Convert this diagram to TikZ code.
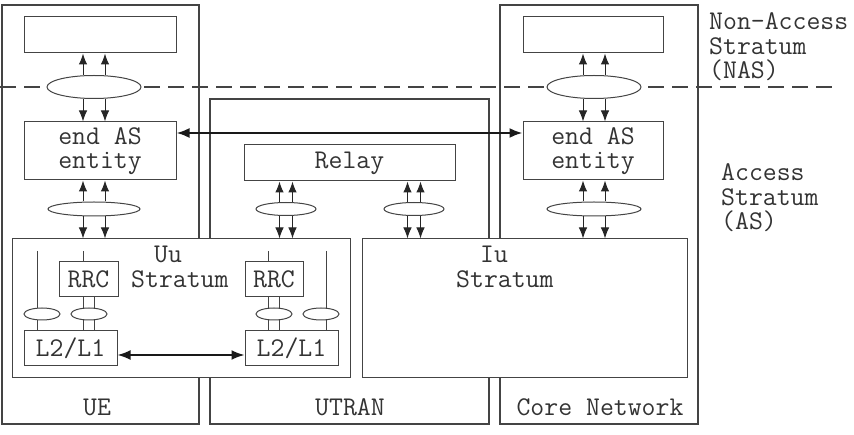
\documentclass[tikz,border=0pt]{standalone}
\usepackage{fontspec}
\usetikzlibrary{shapes.geometric,arrows.meta,calc}
\definecolor{lc}{HTML}{444444}
\definecolor{tc}{HTML}{333333}
\begin{document}
\begin{tikzpicture}[x=1pt,y=-1pt,
  every node/.style={font=\ttfamily\fontsize{27}{24.5}\selectfont, text=tc, inner sep=0pt},
  frame/.style={draw=lc, line width=1.1pt},
  box/.style={rectangle, draw=lc, fill=white, line width=1pt, align=left},
  oval/.style={ellipse, draw=lc, fill=white, line width=1pt},
  arr/.style={-{Latex[length=11pt,width=8.5pt]}, draw=black!85, line width=1pt},
  bigarr/.style={{Latex[length=13pt,width=10pt]}-{Latex[length=13pt,width=10pt]}, draw=black!90, line width=2.2pt},
  ln/.style={draw=lc, line width=1pt},
  lbl/.style={align=left}]
\useasboundingbox (0,0) rectangle (854,435);
\clip (0,0) rectangle (854,435);
% outer frames
\node[rectangle, frame, minimum width=197pt, minimum height=419pt] (ue) at (100.5,214.5) {};
\node[rectangle, frame, minimum width=279pt, minimum height=325pt] (utran) at (349.5,261.5) {};
\node[rectangle, frame, minimum width=198pt, minimum height=419pt] (cn) at (599,214.5) {};
% dashed NAS/AS border
\coordinate (dl) at (0,87);
\coordinate (dr) at (837,87);
\draw[lc, line width=1.2pt, dash pattern=on 16pt off 8pt] (dl) -- (dr);
% NAS boxes
\node[box, minimum width=152pt, minimum height=36pt] (nas1) at (100,35) {};
\node[box, minimum width=140pt, minimum height=36pt] (nas2) at (593,35) {};
% ellipses on border
\node[oval, minimum width=94pt, minimum height=23pt] (e1) at (94,87) {};
\node[oval, minimum width=94pt, minimum height=23pt] (e2) at (594,87) {};
% end AS entities
\node[box, minimum width=152pt, minimum height=58pt] (as1) at (100,151) {end AS\\entity};
\node[box, minimum width=140pt, minimum height=58pt] (as2) at (593,151) {end AS\\entity};
% relay
\node[box, minimum width=211pt, minimum height=36pt] (relay) at (349.5,163) {Relay};
% lower ellipses
\node[oval, minimum width=92pt, minimum height=14pt] (e3) at (94,209) {};
\node[oval, minimum width=60pt, minimum height=13pt] (e4) at (286,209) {};
\node[oval, minimum width=60pt, minimum height=13pt] (e5) at (414,209) {};
\node[oval, minimum width=94pt, minimum height=14pt] (e6) at (594,209) {};
% strata
\node[box, minimum width=338pt, minimum height=139pt] (uu) at (181,308.5) {};
\node[box, minimum width=325pt, minimum height=139pt] (iu) at (524.5,308.5) {};
\node[lbl, anchor=west] (uut) at (131,267) {\hspace*{23pt}Uu\\Stratum};
\node[lbl, anchor=west] (iut) at (456,267) {\hspace*{24pt}Iu\\Stratum};
% Uu internals
\node[box, minimum width=59pt, minimum height=35pt] (rrc1) at (88.5,279.5) {RRC};
\node[box, minimum width=58pt, minimum height=35pt] (rrc2) at (274,279.5) {RRC};
\node[box, minimum width=93pt, minimum height=35pt] (l2a) at (70.5,348.5) {L2/L1};
\node[box, minimum width=93pt, minimum height=35pt] (l2b) at (291.5,348.5) {L2/L1};
\coordinate (t1) at (37,251);
\coordinate (t2) at (326,251);
\draw[ln] (t1) -- (t1 |- l2a.north);
\draw[ln] (t2) -- (t2 |- l2b.north);
\draw[ln] ([xshift=-5.5pt]rrc1.north) -- ([xshift=-5.5pt]rrc1.north |- t1);
\draw[ln] ([xshift=-6pt]rrc2.north) -- ([xshift=-6pt]rrc2.north |- t1);
\foreach \s in {-5.5pt,5.5pt}{
  \draw[ln] ([xshift=\s]rrc1.south) -- ([xshift=\s]rrc1.south |- l2a.north);
  \draw[ln] ([xshift=\s]rrc2.south) -- ([xshift=\s]rrc2.south |- l2b.north);
}
\node[oval, minimum width=36pt, minimum height=12pt] (s1) at (42,314) {};
\node[oval, minimum width=36pt, minimum height=12pt] (s2) at (89,314) {};
\node[oval, minimum width=36pt, minimum height=12pt] (s3) at (274,314) {};
\node[oval, minimum width=36pt, minimum height=12pt] (s4) at (321,314) {};
\draw[bigarr, line width=1.8pt] ([yshift=-6.5pt]l2a.east) -- ([yshift=-6.5pt]l2b.west);
% arrows around ellipses
\foreach \s in {-11pt,11pt}{
  \draw[arr] ([xshift=\s]e1.north) -- ([xshift=\s]e1.north |- nas1.south);
  \draw[arr] ([xshift=\s]e1.south) -- ([xshift=\s]e1.south |- as1.north);
  \draw[arr] ([xshift=\s]e2.north) -- ([xshift=\s]e2.north |- nas2.south);
  \draw[arr] ([xshift=\s]e2.south) -- ([xshift=\s]e2.south |- as2.north);
  \draw[arr] ([xshift=\s]e3.north) -- ([xshift=\s]e3.north |- as1.south);
  \draw[arr] ([xshift=\s]e3.south) -- ([xshift=\s]e3.south |- uu.north);
  \draw[arr] ([xshift=\s]e6.north) -- ([xshift=\s]e6.north |- as2.south);
  \draw[arr] ([xshift=\s]e6.south) -- ([xshift=\s]e6.south |- iu.north);
}
\foreach \s in {-6.5pt,6.5pt}{
  \draw[arr] ([xshift=\s]e4.north) -- ([xshift=\s]e4.north |- relay.south);
  \draw[arr] ([xshift=\s]e4.south) -- ([xshift=\s]e4.south |- uu.north);
  \draw[arr] ([xshift=\s]e5.north) -- ([xshift=\s]e5.north |- relay.south);
  \draw[arr] ([xshift=\s]e5.south) -- ([xshift=\s]e5.south |- iu.north);
}
% peer AS link
\draw[bigarr] ([yshift=18pt]as1.east) -- ([yshift=18pt]as2.west);
% labels
\node (lue) at (97,407) {UE};
\node (lutran) at (350,407) {UTRAN};
\node (lcn) at (600,407) {Core Network};
\node[lbl, anchor=west] (lnas) at (709,47) {Non-Access\\Stratum\\(NAS)};
\node[lbl, anchor=west] (las) at (721,198) {Access\\Stratum\\(AS)};
\end{tikzpicture}
\end{document}
